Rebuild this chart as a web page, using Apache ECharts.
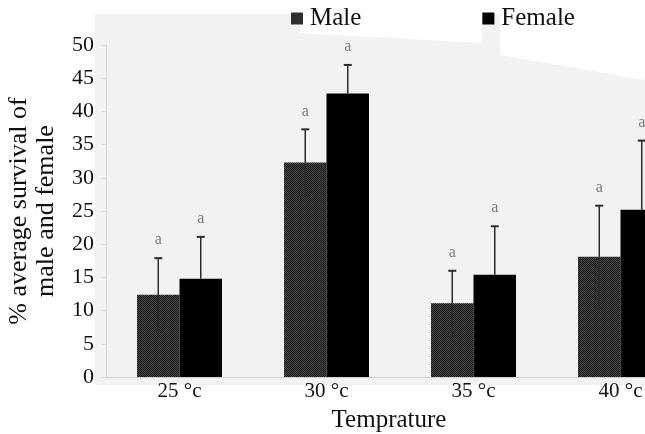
<!DOCTYPE html>
<html>
<head>
<meta charset="utf-8">
<script src="https://cdn.jsdelivr.net/npm/echarts@6/dist/echarts.min.js"></script>
<style>
  html, body { margin: 0; padding: 0; background: #fff; }
  #main { width: 645px; height: 434px; }
</style>
</head>
<body>
<div id="main"></div>
<script>
// data
var categories = ["25 °c", "30 °c", "35 °c", "40 °c"];
var male = [12.4, 32.3, 11.1, 18.1];
var maleErr = [5.5, 5.0, 4.9, 7.7];
var female = [14.8, 42.7, 15.4, 25.2];
var femaleErr = [6.3, 4.3, 7.3, 10.4];
var letters = ["a", "a", "a", "a"];

var serif = "Liberation Serif";
var barW = 42.5;

// dotted fill for the male bars
var pat = document.createElement("canvas");
pat.width = 2;
pat.height = 2;
var pc = pat.getContext("2d");
pc.fillStyle = "#151515";
pc.fillRect(0, 0, 2, 2);
pc.fillStyle = "#4a4a4a";
pc.fillRect(1, 0, 1, 1);
pc.fillRect(0, 1, 1, 1);

function errSeries(vals, errs, side) {
  return {
    type: "custom",
    z: 5,
    silent: true,
    data: vals.map(function (v, i) { return [i, v, errs[i]]; }),
    renderItem: function (params, api) {
      var i = api.value(0);
      var top = api.coord([i, api.value(1) + api.value(2)]);
      var bot = api.coord([i, api.value(1) - api.value(2)]);
      var mid = api.coord([i, api.value(1)]);
      var x = top[0] + side * barW / 2;
      var st = { stroke: "#2b2b2b", lineWidth: 1.5 };
      var kids = [
        { type: "line", shape: { x1: x, y1: top[1], x2: x, y2: mid[1] }, style: st },
        { type: "line", shape: { x1: x - 4, y1: top[1], x2: x + 4, y2: top[1] }, style: { stroke: "#2b2b2b", lineWidth: 2 } },
        {
          type: "text",
          style: {
            text: letters[i], x: x, y: top[1] - 10,
            align: "center", verticalAlign: "bottom",
            fill: "#7a7a7a", font: "16px " + serif
          }
        }
      ];
      // lower whisker only shows on the dotted bars
      if (side < 0) {
        kids.push({ type: "line", shape: { x1: x, y1: mid[1], x2: x, y2: bot[1] }, style: st });
        kids.push({ type: "line", shape: { x1: x - 3, y1: bot[1], x2: x + 3, y2: bot[1] }, style: st });
      }
      return { type: "group", children: kids };
    }
  };
}

var chart = echarts.init(document.getElementById("main"));
chart.setOption({
  animation: false,
  backgroundColor: "#fff",
  textStyle: { fontFamily: serif },
  graphic: [{
    type: "polygon",
    z: -10,
    silent: true,
    shape: {
      points: [[95, 14], [300, 14], [300, 33], [482, 43], [482, 14], [500, 14],
               [500, 55], [645, 80], [645, 385], [95, 385]]
    },
    style: { fill: "#f2f2f2" }
  }],
  legend: {
    left: 286,
    top: 1,
    icon: "rect",
    itemWidth: 12,
    itemHeight: 12,
    itemGap: 121,
    textStyle: { fontFamily: serif, fontSize: 25, color: "#111", padding: [0, 0, 0, 2] },
    data: ["Male", "Female"]
  },
  grid: { left: 106, top: 45, width: 588, height: 332, outerBoundsMode: "none" },
  xAxis: {
    type: "category",
    data: categories,
    name: "Temprature",
    nameLocation: "middle",
    nameGap: 31,
    nameTextStyle: { fontFamily: serif, fontSize: 25, color: "#111", padding: [0, 22, 0, 0] },
    axisLine: { lineStyle: { color: "#cfcfcf" } },
    axisTick: { length: 5, lineStyle: { color: "#cfcfcf" } },
    axisLabel: { fontFamily: serif, fontSize: 21, color: "#111", margin: 4 }
  },
  yAxis: {
    type: "value",
    min: 0,
    max: 50,
    interval: 5,
    name: "% average survival of\nmale and female",
    nameLocation: "middle",
    nameRotate: 90,
    nameGap: 46,
    nameTextStyle: { fontFamily: serif, fontSize: 26, color: "#111", lineHeight: 27 },
    splitLine: { show: false },
    axisLine: { show: true, lineStyle: { color: "#d6d6d6" } },
    axisTick: { show: true, length: 4, lineStyle: { color: "#d6d6d6" } },
    axisLabel: { fontFamily: serif, fontSize: 22, color: "#111", margin: 12 }
  },
  series: [
    {
      name: "Male",
      type: "bar",
      barWidth: barW,
      barGap: "0%",
      itemStyle: { color: { image: pat, repeat: "repeat" } },
      data: male
    },
    {
      name: "Female",
      type: "bar",
      barWidth: barW,
      itemStyle: { color: "#000" },
      data: female
    },
    errSeries(male, maleErr, -1),
    errSeries(female, femaleErr, 1)
  ]
});
</script>
</body>
</html>
